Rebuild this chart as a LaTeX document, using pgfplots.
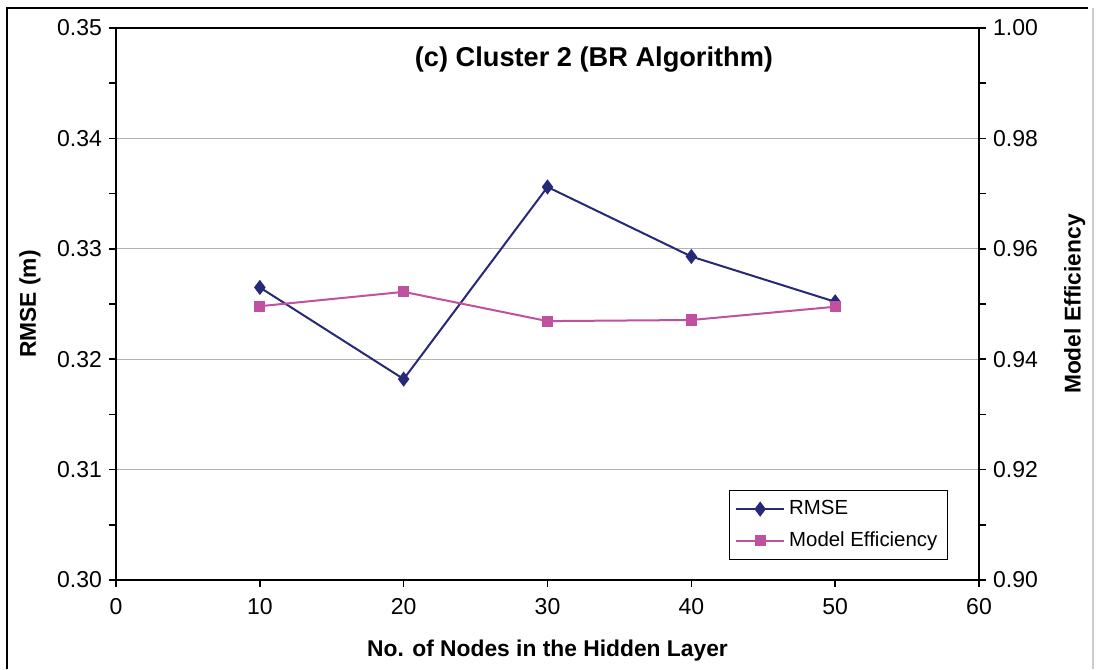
\documentclass[border=0pt]{standalone}
\usepackage{pgfplots}
\pgfplotsset{compat=1.18}
\usepackage{fontspec}
\setmainfont{Liberation Sans}
\definecolor{rmsecol}{RGB}{40,40,120}
\definecolor{effcol}{RGB}{192,80,160}
\begin{document}
\begin{tikzpicture}
\path[use as bounding box] (0,0) rectangle (548pt,334.5pt);
\fill[white] (0,0) rectangle (548pt,334.5pt);
\draw[black,line width=0.8pt] (3.5pt,0) -- (3.5pt,330.5pt) -- (544pt,330.5pt);
\draw[gray!40,line width=0.8pt] (546.5pt,0) -- (546.5pt,330.5pt);
\begin{axis}[
  at={(58pt,44.5pt)}, anchor=south west,
  scale only axis, width=431.5pt, height=276pt,
  xmin=0, xmax=60, ymin=0.30, ymax=0.35,
  xtick={0,10,...,60}, ytick={0.30,0.31,0.32,0.33,0.34,0.35},
  minor ytick={0.305,0.315,0.325,0.335,0.345},
  axis y line*=left, axis x line*=bottom,
  tick align=outside, major tick length=3.5pt, minor tick length=3.5pt,
  tick style={black, line width=0.8pt},
  axis line style={black, line width=0.8pt},
  ymajorgrids, grid style={gray!60, line width=0.5pt},
  yticklabel style={/pgf/number format/fixed,/pgf/number format/fixed zerofill,/pgf/number format/precision=2},
  xticklabel style={yshift=-2pt},
  /pgf/number format/assume math mode=true,
  ticklabel style={font=\fontsize{11.5}{13}\selectfont},
  xlabel={No. of Nodes in the Hidden Layer},
  ylabel={RMSE (m)},
  label style={font=\bfseries\fontsize{11.4}{13}\selectfont},
  xlabel style={at={(axis description cs:0.5,-0.1286)}, anchor=center},
  ylabel style={at={(axis description cs:-0.0997,0.5)}, anchor=center},
  clip=false,
  legend style={at={(axis description cs:0.964,0.036)}, anchor=south east,
    draw=black, line width=0.6pt, font=\fontsize{10.2}{12}\selectfont,
    row sep=3pt, inner sep=3pt, cells={anchor=west}},
  legend cell align=left,
  legend image code/.code={\draw[mark repeat=2,mark phase=2,#1] plot coordinates {(0pt,0pt) (12pt,0pt) (24pt,0pt)};},
]
\addplot[color=rmsecol, line width=1pt, mark=diamond*, mark size=3pt, mark options={fill=rmsecol}]
  coordinates {(10,0.3265) (20,0.3182) (30,0.3356) (40,0.3293) (50,0.3252)};
\addlegendentry{RMSE}
\addlegendimage{color=effcol, line width=1pt, mark=square*, mark size=2.2pt, mark options={fill=effcol}}
\addlegendentry{Model Efficiency}
\end{axis}
\draw[black, line width=0.8pt] (58pt,320.5pt) -- (489.5pt,320.5pt);
\begin{axis}[
  at={(58pt,44.5pt)}, anchor=south west,
  scale only axis, width=431.5pt, height=276pt,
  xmin=0, xmax=60, ymin=0.90, ymax=1.00,
  axis x line=none, axis y line*=right,
  ytick={0.90,0.92,...,1.00}, minor ytick={0.91,0.93,0.95,0.97,0.99},
  tick align=outside, major tick length=3.5pt, minor tick length=3.5pt,
  tick style={black, line width=0.8pt},
  axis line style={black, line width=0.8pt},
  yticklabel style={/pgf/number format/fixed,/pgf/number format/fixed zerofill,/pgf/number format/precision=2},
  /pgf/number format/assume math mode=true,
  ticklabel style={font=\fontsize{11.5}{13}\selectfont},
  ylabel={Model Efficiency},
  label style={font=\bfseries\fontsize{11.4}{13}\selectfont},
  ylabel style={at={(axis description cs:1.111,0.5)}, anchor=center, rotate=0},
  clip=false,
]
\addplot[color=effcol, line width=1pt, mark=square*, mark size=2.3pt, mark options={fill=effcol}]
  coordinates {(10,0.9496) (20,0.9522) (30,0.9469) (40,0.9471) (50,0.9495)};
\end{axis}
\node[font=\bfseries\fontsize{13.6}{16}\selectfont] at (297pt,304.5pt) {(c) Cluster 2 (BR Algorithm)};
\end{tikzpicture}
\end{document}
